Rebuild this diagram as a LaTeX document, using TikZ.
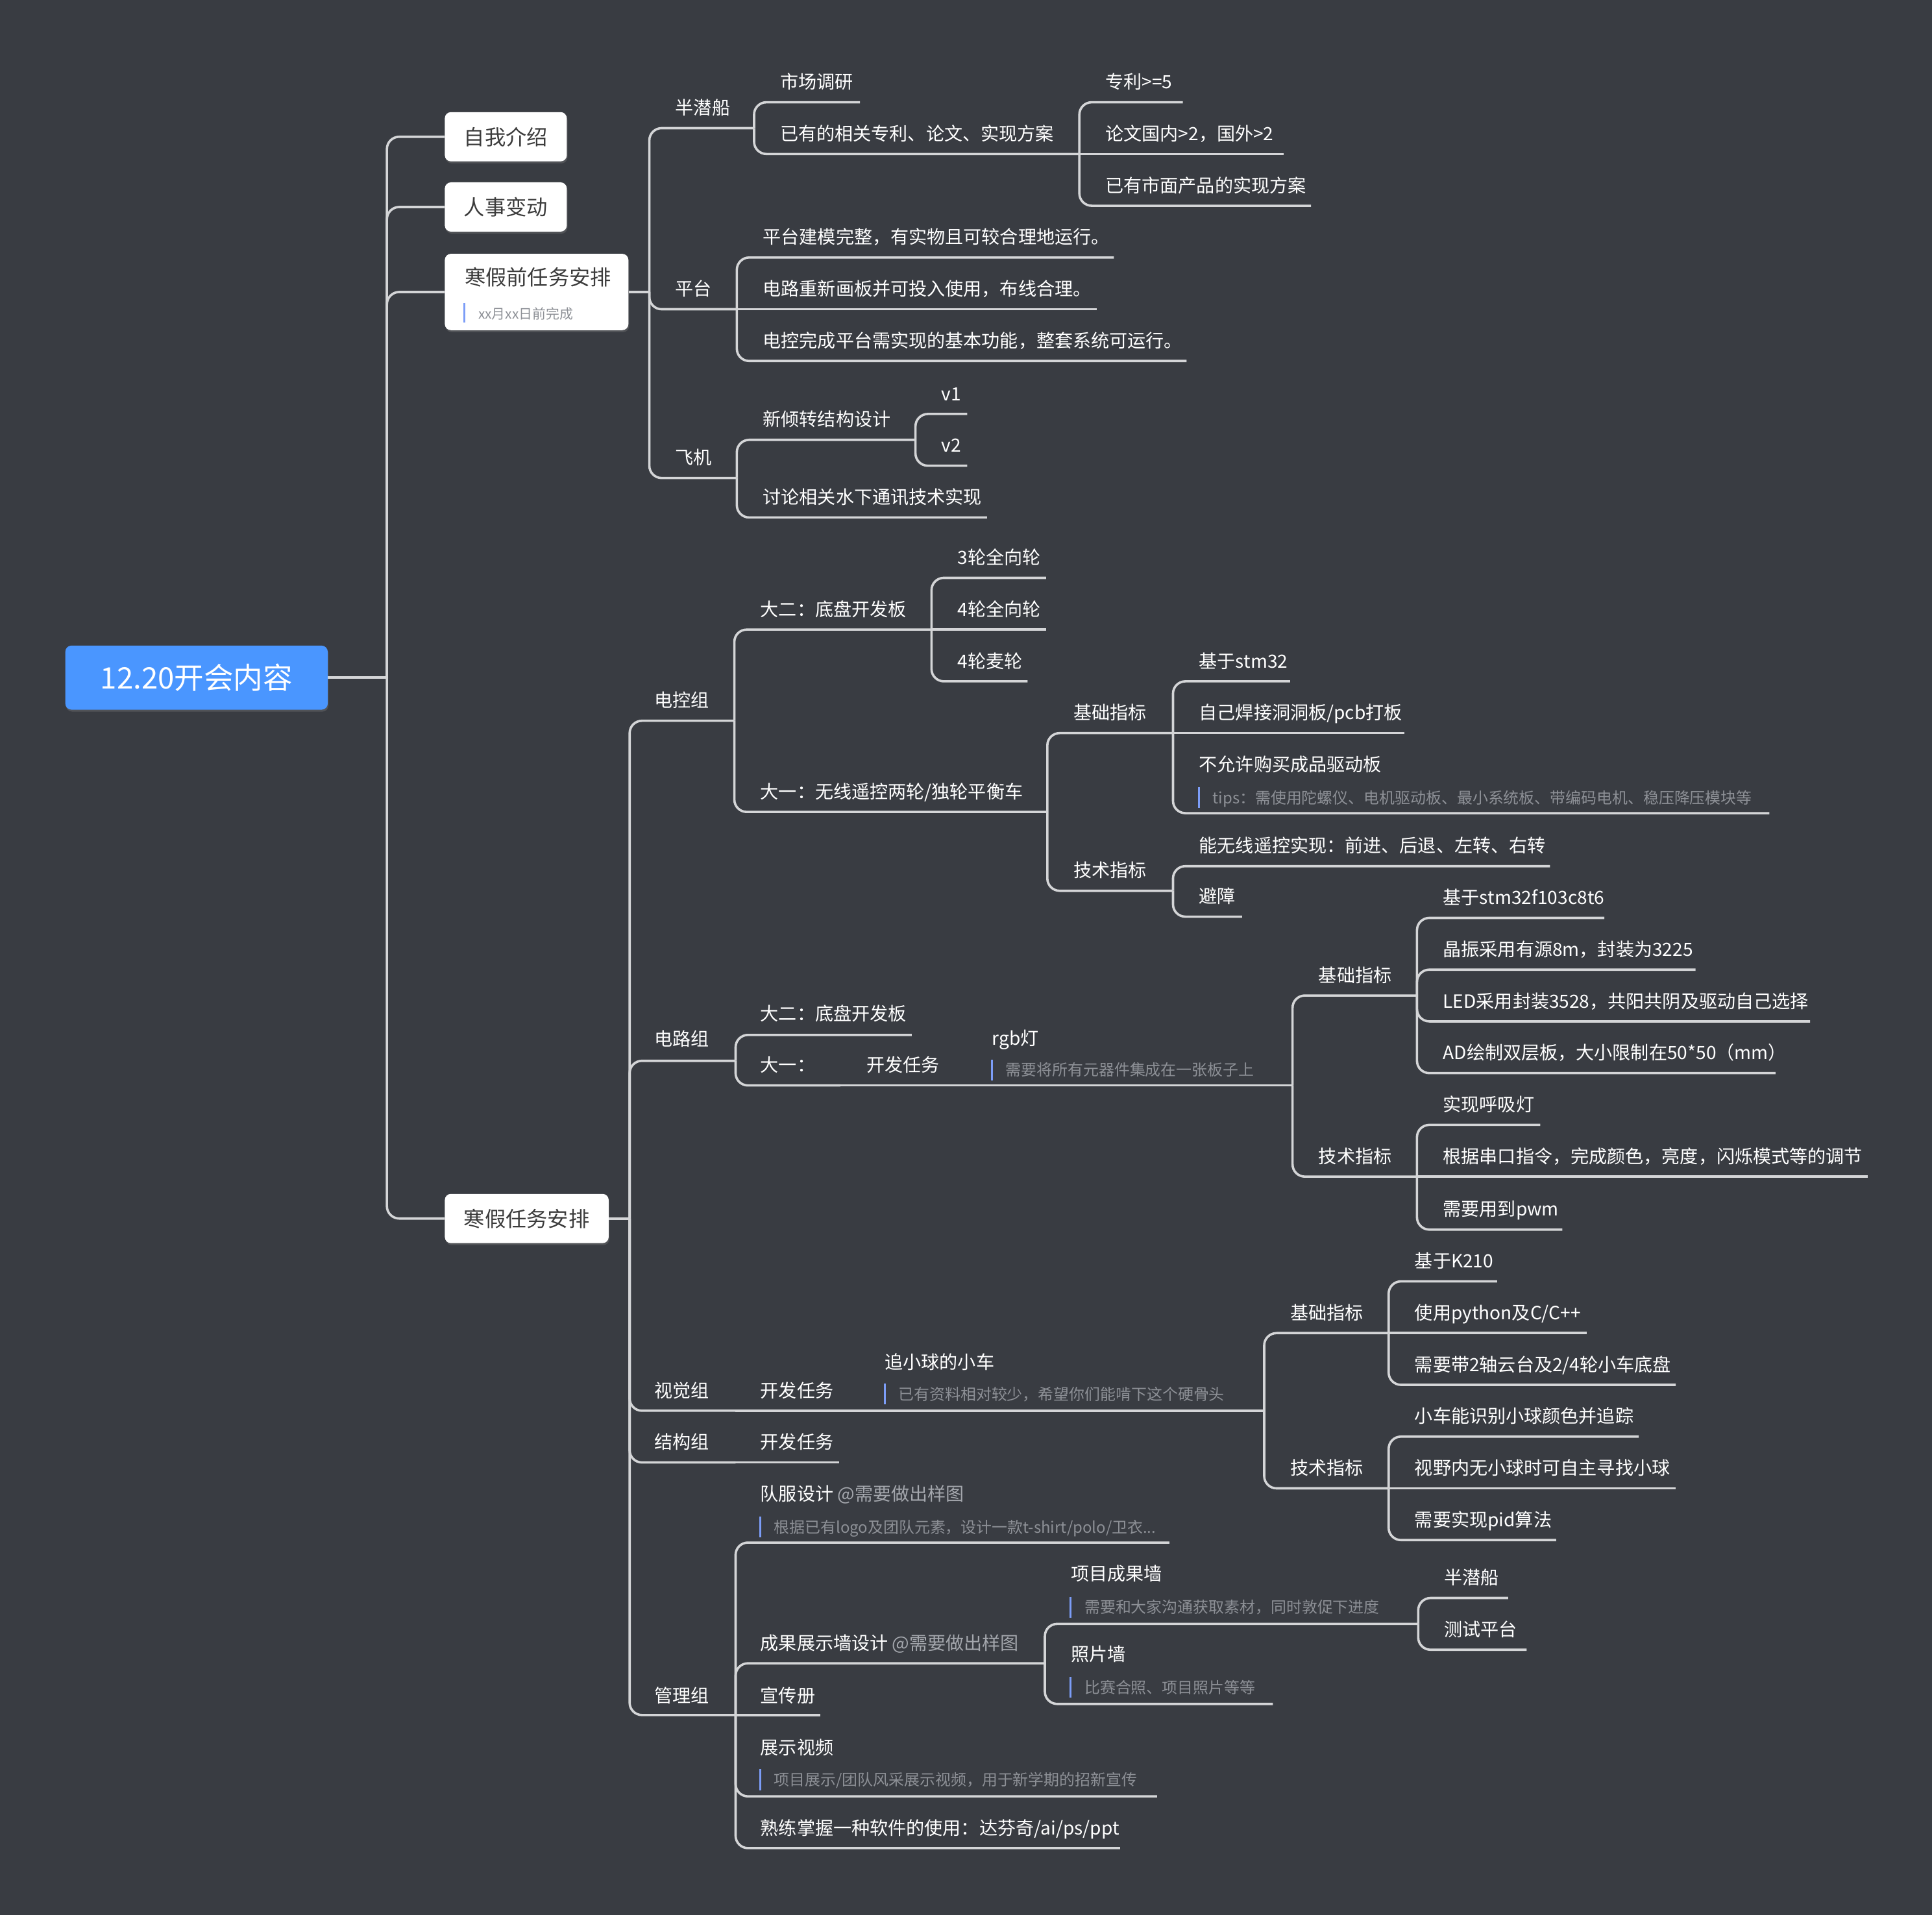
\documentclass[tikz,border=0pt]{standalone}
\usepackage{fontspec}
\setmainfont{Noto Sans CJK SC}
\usetikzlibrary{shadows}
\definecolor{bg}{HTML}{393C42}
\definecolor{ln}{HTML}{D4D5D7}
\definecolor{rootblue}{HTML}{4A96FF}
\definecolor{boxtext}{HTML}{3C3C3C}
\definecolor{notegray}{HTML}{8D9096}
\definecolor{atgray}{HTML}{A4A7AD}
\definecolor{notebar}{HTML}{7C9DF7}
\newcommand{\fsz}[1]{\fontsize{#1pt}{#1pt}\selectfont}
\tikzset{
  conn/.style={draw=ln, line width=1.9pt, rounded corners=10pt},
  topic/.style={anchor=west, inner sep=0pt, text=white, font=\fsz{14.8}, text height=11.4pt, text depth=3pt, yshift=-1.8pt},
  note/.style={anchor=west, inner sep=0pt, text=notegray, font=\fsz{12.6}, text height=9.8pt, text depth=2.4pt, yshift=-1.5pt},
  nbar/.style={draw=notebar, line width=1.6pt},
  box/.style={fill=white, rounded corners=5pt, inner sep=0pt, text=boxtext, font=\fsz{17},
    drop shadow={shadow xshift=0.6pt, shadow yshift=-1.6pt, opacity=0.35}},
  rootbox/.style={fill=rootblue, rounded corners=5pt, inner sep=0pt, text=white, font=\fsz{24},
    minimum width=213pt, minimum height=52pt,
    drop shadow={shadow xshift=0.6pt, shadow yshift=-1.6pt, opacity=0.35}},
}
\begin{document}
\begin{tikzpicture}[x=1pt,y=-1pt]
\useasboundingbox (0,0) rectangle (1568,1554);
\fill[bg] (-6,-6) rectangle (1574,1560);

% ---------- root and first level
\node[rootbox] (root) at (159.5,550) {12.20开会内容};
\coordinate (root-j) at (314,550);
\draw[conn] (root.east) -- (root-j);

\node[box, minimum width=99pt, minimum height=40pt] (b1) at (410.5,111) {自我介绍};
\node[box, minimum width=99pt, minimum height=40pt] (b2) at (410.5,168) {人事变动};
\node[box, minimum width=149pt, minimum height=62pt] (b3) at (435.5,237) {};
\node[anchor=west, inner sep=0pt, text=boxtext, font=\fsz{17}] (b3t) at (377,225) {寒假前任务安排};
\draw[nbar] (377,246) -- (377,262);
\node[note, font=\fsz{11}, text height=8.6pt, text depth=2pt, yshift=0pt] (b3n) at (388,254) {xx月xx日前完成};
\node[box, minimum width=133pt, minimum height=40pt] (b4) at (427.5,989) {寒假任务安排};

\draw[conn] (root-j) |- (b1.west);
\draw[conn] (root-j) |- (b2.west);
\draw[conn] (root-j) |- (b3.west);
\draw[conn] (root-j) |- (b4.west);

% ---------- 寒假前任务安排
\coordinate (b3-j) at (527,237);
\draw[conn] (b3.east) -- (b3-j);

\node[topic] (bqc) at (548,87) {半潜船};
\coordinate (bqc-j) at (612,104);
\draw[conn] (b3-j) |- (bqc-j);
\node[topic] (sc) at (633,66) {市场调研};
\coordinate (sc-j) at (698,83);
\draw[conn] (bqc-j) |- (sc-j);
\node[topic] (yy) at (633,108) {已有的相关专利、论文、实现方案};
\coordinate (yy-j) at (876,125);
\draw[conn] (bqc-j) |- (yy-j);
\node[topic] (zl) at (897,66) {专利>=5};
\coordinate (zl-j) at (960,83);
\draw[conn] (yy-j) |- (zl-j);
\node[topic] (lw) at (897,108) {论文国内>2，国外>2};
\coordinate (lw-j) at (1042,125);
\draw[conn] (yy-j) -- (lw-j);
\node[topic] (ysm) at (897,150) {已有市面产品的实现方案};
\coordinate (ysm-j) at (1064,167);
\draw[conn] (yy-j) |- (ysm-j);

\node[topic] (pt) at (548,234) {平台};
\coordinate (pt-j) at (598,251);
\draw[conn] (b3-j) |- (pt-j);
\node[topic] (pt1) at (619,192) {平台建模完整，有实物且可较合理地运行。};
\coordinate (pt1-j) at (904,209);
\draw[conn] (pt-j) |- (pt1-j);
\node[topic] (pt2) at (619,234) {电路重新画板并可投入使用，布线合理。};
\coordinate (pt2-j) at (890,251);
\draw[conn] (pt-j) -- (pt2-j);
\node[topic] (pt3) at (619,276) {电控完成平台需实现的基本功能，整套系统可运行。};
\coordinate (pt3-j) at (963,293);
\draw[conn] (pt-j) |- (pt3-j);

\node[topic] (fj) at (548,371) {飞机};
\coordinate (fj-j) at (598,388);
\draw[conn] (b3-j) |- (fj-j);
\node[topic] (xq) at (619,340) {新倾转结构设计};
\coordinate (xq-j) at (743,357);
\draw[conn] (fj-j) |- (xq-j);
\node[topic] (tl) at (619,403) {讨论相关水下通讯技术实现};
\coordinate (tl-j) at (801,420);
\draw[conn] (fj-j) |- (tl-j);
\node[topic] (v1) at (764,319) {v1};
\coordinate (v1-j) at (785,336);
\draw[conn] (xq-j) |- (v1-j);
\node[topic] (v2) at (764,361) {v2};
\coordinate (v2-j) at (785,378);
\draw[conn] (xq-j) |- (v2-j);

% ---------- 寒假任务安排
\coordinate (b4-j) at (511,989);
\draw[conn] (b4.east) -- (b4-j);

% 电控组
\node[topic] (dk) at (531,568) {电控组};
\coordinate (dk-j) at (596,585);
\draw[conn] (b4-j) |- (dk-j);
\node[topic] (de) at (617,494) {大二：底盘开发板};
\coordinate (de-j) at (756,511);
\draw[conn] (dk-j) |- (de-j);
\node[topic] (w3) at (777,452) {3轮全向轮};
\coordinate (w3-j) at (849,469);
\draw[conn] (de-j) |- (w3-j);
\node[topic] (w4) at (777,494) {4轮全向轮};
\coordinate (w4-j) at (849,511);
\draw[conn] (de-j) -- (w4-j);
\node[topic] (wm) at (777,536) {4轮麦轮};
\coordinate (wm-j) at (834,553);
\draw[conn] (de-j) |- (wm-j);

\node[topic] (dy) at (617,642) {大一：无线遥控两轮/独轮平衡车};
\coordinate (dy-j) at (850,659);
\draw[conn] (dk-j) |- (dy-j);
\node[topic] (jc1) at (871,578) {基础指标};
\coordinate (jc1-j) at (952,595);
\draw[conn] (dy-j) |- (jc1-j);
\node[topic] (js1) at (871,706) {技术指标};
\coordinate (js1-j) at (952,723);
\draw[conn] (dy-j) |- (js1-j);
\node[topic] (a1) at (973,536) {基于stm32};
\coordinate (a1-j) at (1047,553);
\draw[conn] (jc1-j) |- (a1-j);
\node[topic] (a2) at (973,578) {自己焊接洞洞板/pcb打板};
\coordinate (a2-j) at (1140,595);
\draw[conn] (jc1-j) -- (a2-j);
\node[topic] (a3) at (973,620) {不允许购买成品驱动板};
\draw[nbar] (973,639) -- (973,656);
\node[note] (a3n) at (984,647) {tips：需使用陀螺仪、电机驱动板、最小系统板、带编码电机、稳压降压模块等};
\coordinate (a3-j) at (1436,660);
\draw[conn] (jc1-j) |- (a3-j);
\node[topic] (t1) at (973,686) {能无线遥控实现：前进、后退、左转、右转};
\coordinate (t1-j) at (1258,703);
\draw[conn] (js1-j) |- (t1-j);
\node[topic] (t2) at (973,727) {避障};
\coordinate (t2-j) at (1008,744);
\draw[conn] (js1-j) |- (t2-j);

% 电路组
\node[topic] (dl) at (531,843) {电路组};
\coordinate (dl-j) at (597,861);
\draw[conn] (b4-j) |- (dl-j);
\node[topic] (de2) at (617,822) {大二：底盘开发板};
\coordinate (de2-j) at (740,840);
\draw[conn] (dl-j) |- (de2-j);
\node[topic] (dy2) at (617,864) {大一：};
\coordinate (dy2-j) at (682,881);
\draw[conn] (dl-j) |- (dy2-j);
\node[topic] (kf1) at (703,864) {开发任务};
\coordinate (kf1-j) at (784,881);
\draw[conn] (dy2-j) -- (kf1-j);
\node[topic] (rgb) at (805,842) {rgb灯};
\draw[nbar] (805,860) -- (805,877);
\node[note] (rgbn) at (816,868) {需要将所有元器件集成在一张板子上};
\coordinate (rgb-j) at (1049,881);
\draw[conn] (kf1-j) -- (rgb-j);
\node[topic] (jc2) at (1070,791) {基础指标};
\coordinate (jc2-j) at (1150,808);
\draw[conn] (rgb-j) |- (jc2-j);
\node[topic] (js2) at (1070,938) {技术指标};
\coordinate (js2-j) at (1150,955);
\draw[conn] (rgb-j) |- (js2-j);
\node[topic] (c1) at (1171,728) {基于stm32f103c8t6};
\coordinate (c1-j) at (1302,745);
\draw[conn] (jc2-j) |- (c1-j);
\node[topic] (c2) at (1171,770) {晶振采用有源8m，封装为3225};
\coordinate (c2-j) at (1376,787);
\draw[conn] (jc2-j) |- (c2-j);
\node[topic] (c3) at (1171,812) {LED采用封装3528，共阳共阴及驱动自己选择};
\coordinate (c3-j) at (1469,829);
\draw[conn] (jc2-j) |- (c3-j);
\node[topic] (c4) at (1171,854) {AD绘制双层板，大小限制在50*50（mm）};
\coordinate (c4-j) at (1441,871);
\draw[conn] (jc2-j) |- (c4-j);
\node[topic] (e1) at (1171,896) {实现呼吸灯};
\coordinate (e1-j) at (1250,913);
\draw[conn] (js2-j) |- (e1-j);
\node[topic] (e2) at (1171,938) {根据串口指令，完成颜色，亮度，闪烁模式等的调节};
\coordinate (e2-j) at (1516,955);
\draw[conn] (js2-j) -- (e2-j);
\node[topic] (e3) at (1171,981) {需要用到pwm};
\coordinate (e3-j) at (1268,998);
\draw[conn] (js2-j) |- (e3-j);

% 视觉组
\node[topic] (sj) at (531,1128) {视觉组};
\coordinate (sj-j) at (597,1145);
\draw[conn] (b4-j) |- (sj-j);
\node[topic] (kf2) at (617,1128) {开发任务};
\coordinate (kf2-j) at (697,1145);
\draw[conn] (sj-j) -- (kf2-j);
\node[topic] (zxq) at (718,1105) {追小球的小车};
\draw[nbar] (718,1123) -- (718,1140);
\node[note] (zxqn) at (729,1131) {已有资料相对较少，希望你们能啃下这个硬骨头};
\coordinate (zxq-j) at (1026,1145);
\draw[conn] (kf2-j) -- (zxq-j);
\node[topic] (jc3) at (1047,1065) {基础指标};
\coordinate (jc3-j) at (1127,1082);
\draw[conn] (zxq-j) |- (jc3-j);
\node[topic] (js3) at (1047,1191) {技术指标};
\coordinate (js3-j) at (1127,1208);
\draw[conn] (zxq-j) |- (js3-j);
\node[topic] (f1) at (1148,1023) {基于K210};
\coordinate (f1-j) at (1215,1040);
\draw[conn] (jc3-j) |- (f1-j);
\node[topic] (f2) at (1148,1065) {使用python及C/C++};
\coordinate (f2-j) at (1288,1082);
\draw[conn] (jc3-j) -- (f2-j);
\node[topic] (f3) at (1148,1107) {需要带2轴云台及2/4轮小车底盘};
\coordinate (f3-j) at (1360,1124);
\draw[conn] (jc3-j) |- (f3-j);
\node[topic] (g1) at (1148,1149) {小车能识别小球颜色并追踪};
\coordinate (g1-j) at (1330,1166);
\draw[conn] (js3-j) |- (g1-j);
\node[topic] (g2) at (1148,1191) {视野内无小球时可自主寻找小球};
\coordinate (g2-j) at (1360,1208);
\draw[conn] (js3-j) -- (g2-j);
\node[topic] (g3) at (1148,1233) {需要实现pid算法};
\coordinate (g3-j) at (1263,1250);
\draw[conn] (js3-j) |- (g3-j);

% 结构组
\node[topic] (jg) at (531,1170) {结构组};
\coordinate (jg-j) at (597,1187);
\draw[conn] (b4-j) |- (jg-j);
\node[topic] (kf3) at (617,1170) {开发任务};
\coordinate (kf3-j) at (681,1187);
\draw[conn] (jg-j) -- (kf3-j);

% 管理组
\node[topic] (gl) at (531,1376) {管理组};
\coordinate (gl-j) at (597,1392);
\draw[conn] (b4-j) |- (gl-j);
\node[topic] (df) at (617,1212) {队服设计 \textcolor{atgray}{@需要做出样图}};
\draw[nbar] (617,1231) -- (617,1248);
\node[note] (dfn) at (628,1239) {根据已有logo及团队元素，设计一款t-shirt/polo/卫衣...};
\coordinate (df-j) at (949,1252);
\draw[conn] (gl-j) |- (df-j);
\node[topic] (cg) at (617,1333) {成果展示墙设计 \textcolor{atgray}{@需要做出样图}};
\coordinate (cg-j) at (848,1350);
\draw[conn] (gl-j) |- (cg-j);
\node[topic] (xm) at (869,1277) {项目成果墙};
\draw[nbar] (869,1296) -- (869,1313);
\node[note] (xmn) at (880,1304) {需要和大家沟通获取素材，同时敦促下进度};
\coordinate (xm-j) at (1151,1318);
\draw[conn] (cg-j) |- (xm-j);
\node[topic] (bq2) at (1172,1280) {半潜船};
\coordinate (bq2-j) at (1224,1297);
\draw[conn] (xm-j) |- (bq2-j);
\node[topic] (cs) at (1172,1322) {测试平台};
\coordinate (cs-j) at (1239,1339);
\draw[conn] (xm-j) |- (cs-j);
\node[topic] (zp) at (869,1342) {照片墙};
\draw[nbar] (869,1361) -- (869,1378);
\node[note] (zpn) at (880,1369) {比赛合照、项目照片等等};
\coordinate (zp-j) at (1033,1383);
\draw[conn] (cg-j) |- (zp-j);
\node[topic] (xc) at (617,1376) {宣传册};
\coordinate (xc-j) at (666,1392);
\draw[conn] (gl-j) -- (xc-j);
\node[topic] (zs) at (617,1418) {展示视频};
\draw[nbar] (617,1436) -- (617,1453);
\node[note] (zsn) at (628,1444) {项目展示/团队风采展示视频，用于新学期的招新宣传};
\coordinate (zs-j) at (939,1458);
\draw[conn] (gl-j) |- (zs-j);
\node[topic] (sl) at (617,1483) {熟练掌握一种软件的使用：达芬奇/ai/ps/ppt};
\coordinate (sl-j) at (909,1500);
\draw[conn] (gl-j) |- (sl-j);
\end{tikzpicture}
\end{document}
